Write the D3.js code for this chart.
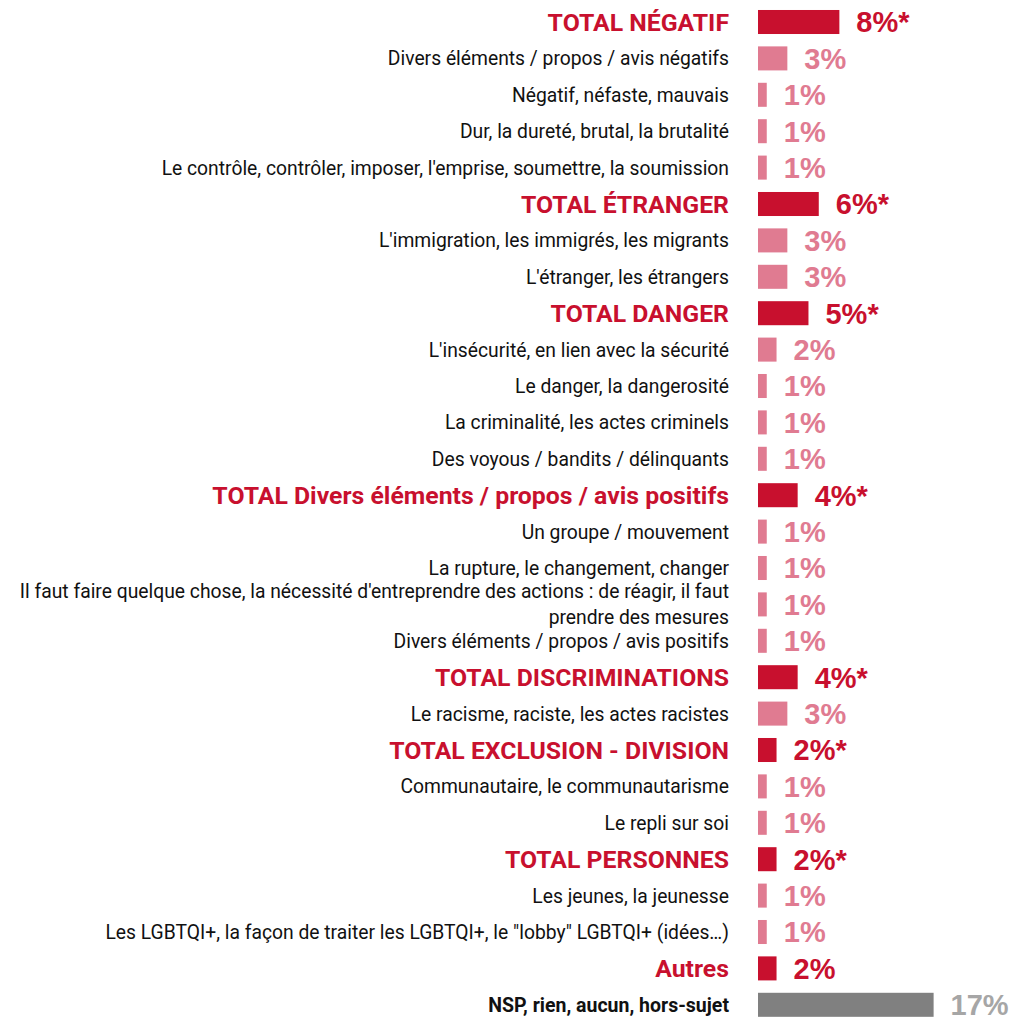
<!DOCTYPE html>
<html>
<head>
<meta charset="utf-8">
<script src="https://cdn.jsdelivr.net/npm/d3@7"></script>
<style>
  body { margin: 0; background: #fff; }
  svg { display: block; }
</style>
</head>
<body>
<script>
// rows, top to bottom
var labels = [
  "TOTAL NÉGATIF",
  "Divers éléments / propos / avis négatifs",
  "Négatif, néfaste, mauvais",
  "Dur, la dureté, brutal, la brutalité",
  "Le contrôle, contrôler, imposer, l'emprise, soumettre, la soumission",
  "TOTAL ÉTRANGER",
  "L'immigration, les immigrés, les migrants",
  "L'étranger, les étrangers",
  "TOTAL DANGER",
  "L'insécurité, en lien avec la sécurité",
  "Le danger, la dangerosité",
  "La criminalité, les actes criminels",
  "Des voyous / bandits / délinquants",
  "TOTAL Divers éléments / propos / avis positifs",
  "Un groupe / mouvement",
  "La rupture, le changement, changer",
  "Il faut faire quelque chose, la nécessité d'entreprendre des actions : de réagir, il faut|prendre des mesures",
  "Divers éléments / propos / avis positifs",
  "TOTAL DISCRIMINATIONS",
  "Le racisme, raciste, les actes racistes",
  "TOTAL EXCLUSION - DIVISION",
  "Communautaire, le communautarisme",
  "Le repli sur soi",
  "TOTAL PERSONNES",
  "Les jeunes, la jeunesse",
  "Les LGBTQI+, la façon de traiter les LGBTQI+, le \"lobby\" LGBTQI+ (idées…)",
  "Autres",
  "NSP, rien, aucun, hors-sujet"
];

var kinds = [
  "total", "sub", "sub", "sub", "sub",
  "total", "sub", "sub",
  "total", "sub", "sub", "sub", "sub",
  "total", "sub", "sub", "sub", "sub",
  "total", "sub",
  "total", "sub", "sub",
  "total", "sub", "sub",
  "total",
  "nsp"
];

var values = [
  7.9, 2.85, 0.85, 0.85, 0.85,
  5.9, 2.85, 2.85,
  4.9, 1.8, 0.85, 0.85, 0.85,
  3.85, 0.85, 0.85, 0.85, 0.85,
  3.85, 2.85,
  1.8, 0.85, 0.85,
  1.8, 0.85, 0.85,
  1.8,
  17.05
];

var valueLabels = [
  "8%*", "3%", "1%", "1%", "1%",
  "6%*", "3%", "3%",
  "5%*", "2%", "1%", "1%", "1%",
  "4%*", "1%", "1%", "1%", "1%",
  "4%*", "3%",
  "2%*", "1%", "1%",
  "2%*", "1%", "1%",
  "2%",
  "17%"
];

var width = 1014, height = 1017;

var barColor = {total: "#c8102e", sub: "#e07b91", nsp: "#808080"};
var textColor = {total: "#c8102e", sub: "#e07b91", nsp: "#a6a6a6"};

var svg = d3.select("body").append("svg")
    .attr("width", width)
    .attr("height", height);

var x = d3.scaleLinear()
    .domain([0, 20])
    .range([758, 758 + 206]);

var y = d3.scaleBand()
    .domain(d3.range(labels.length))
    .range([3.8, 3.8 + 36.4 * labels.length])
    .paddingInner(0.34)
    .paddingOuter(0.17);

var rows = svg.selectAll("g.row")
    .data(labels.map(function(d, i) {
      return {label: d, kind: kinds[i], value: values[i], text: valueLabels[i], i: i};
    }))
  .enter().append("g")
    .attr("class", "row");

rows.append("rect")
    .attr("x", x(0))
    .attr("y", function(d) { return y(d.i); })
    .attr("width", function(d) { return x(d.value) - x(0); })
    .attr("height", y.bandwidth())
    .attr("fill", function(d) { return barColor[d.kind]; });

rows.append("text")
    .attr("x", function(d) { return x(d.value) + 17; })
    .attr("y", function(d) { return y(d.i) + y.bandwidth() / 2; })
    .attr("dy", "0.36em")
    .style("font-family", "'Liberation Sans', Arial, sans-serif")
    .style("font-weight", "bold")
    .style("font-size", "29px")
    .attr("fill", function(d) { return textColor[d.kind]; })
    .text(function(d) { return d.text; });

// category labels, right aligned
var lab = rows.append("text")
    .attr("text-anchor", "end")
    .attr("x", 729)
    .attr("y", function(d) { return y(d.i) + y.bandwidth() / 2; })
    .style("font-family", "Roboto, sans-serif")
    .style("font-weight", function(d) { return d.kind == "sub" ? "normal" : "bold"; })
    .style("font-size", function(d) {
      return d.kind == "total" ? "24.8px" : d.kind == "nsp" ? "19.5px" : "19.3px";
    })
    .attr("fill", function(d) { return d.kind == "total" ? "#c8102e" : "#111"; });

lab.each(function(d) {
  var lines = d.label.split("|");
  var t = d3.select(this);
  lines.forEach(function(line, k) {
    t.append("tspan")
        .attr("x", 729)
        .attr("dy", k == 0 ? (0.36 - (lines.length - 1) * 0.67) + "em" : "1.35em")
        .text(line);
  });
});
</script>
</body>
</html>
